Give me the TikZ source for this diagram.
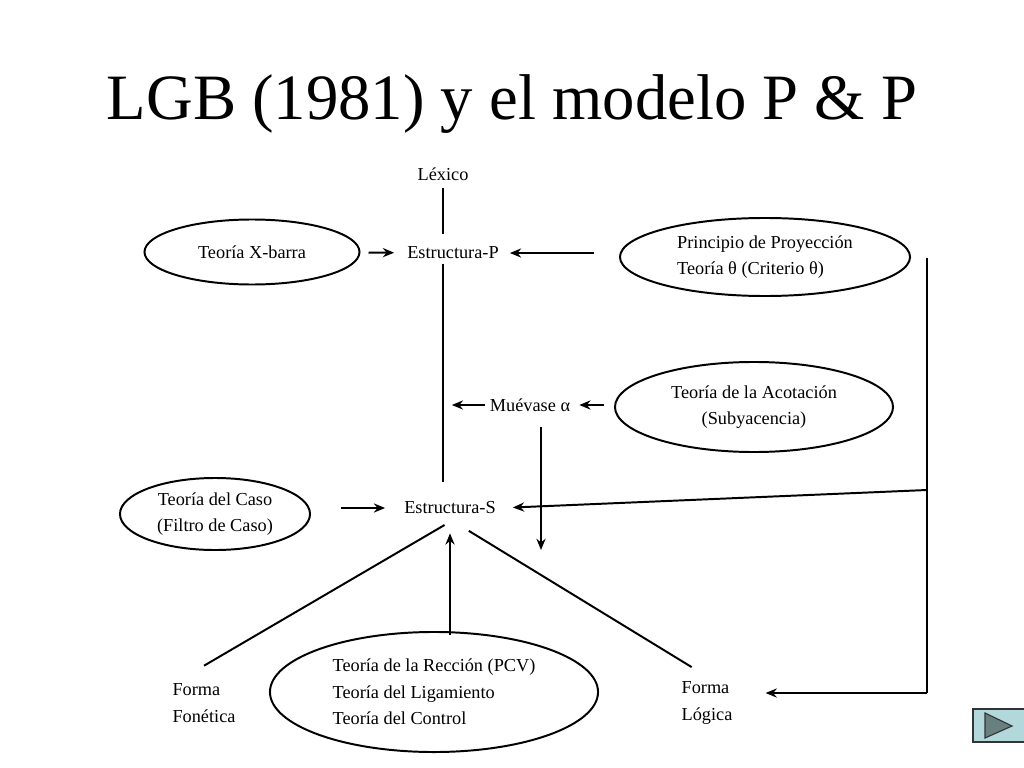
\documentclass[tikz,border=0pt]{standalone}
\usepackage{fontspec}
\setmainfont{Liberation Serif}
\usepackage{tikz}
\usetikzlibrary{shapes.geometric}
\usetikzlibrary{shapes,arrows.meta}
\definecolor{botonfondo}{RGB}{178,216,220}
\definecolor{botonflecha}{RGB}{105,128,128}

\begin{document}
\begin{tikzpicture}[x=0.025cm,y=-0.025cm,->,>={Stealth[length=8pt,width=6.5pt]},line width=1.4pt,
  teoria/.style={ellipse,draw,inner sep=0pt,font=\fontsize{13}{19}\selectfont},
  etiqueta/.style={inner sep=3pt,font=\fontsize{13}{19}\selectfont}]
\useasboundingbox (0,0) rectangle (1024,768);
\node[anchor=base,font=\fontsize{46}{50}\selectfont] (titulo) at (512,120) {LGB (1981) y el modelo P \& P};

\node[etiqueta] (lex) at (443,174) {Léxico};
\node[etiqueta] (estp) at (453,253) {Estructura-P};
\node[etiqueta] (ests) at (450,508) {Estructura-S};
\node[etiqueta] (mov) at (530,405) {Muévase α};
\node[teoria,minimum width=5.375cm,minimum height=1.625cm] (xbar) at (252,252) {Teoría X-barra};
\node[teoria,align=left,minimum width=7.25cm,minimum height=1.95cm] (prin) at (765,257) {Principio de Proyección\\Teoría θ (Criterio θ)};
\node[teoria,align=center,minimum width=6.95cm,minimum height=2.25cm] (acot) at (754,407) {Teoría de la Acotación\\(Subyacencia)};
\node[teoria,align=center,minimum width=4.75cm,minimum height=1.8cm] (caso) at (215,514) {Teoría del Caso\\(Filtro de Caso)};
\node[teoria,align=left,minimum width=8.2cm,minimum height=3cm] (rec) at (434,692) {Teoría de la Rección (PCV)\\Teoría del Ligamiento\\Teoría del Control};
\node[etiqueta,align=left] (ffon) at (204,703) {Forma\\Fonética};
\node[etiqueta,align=left] (flog) at (707,703) {Forma\\Lógica};

\coordinate (movfin) at (541,550);
\coordinate (dersup) at (927,258);
\coordinate (dermed) at (927,490);
\coordinate (derinf) at (927,693);

\draw[-,shorten <=2pt,shorten >=0.2cm] (lex) -- (lex |- estp.north);
\draw[-,shorten >=0.37cm] (lex |- estp.south) -- (lex |- ests.north);
\draw[shorten <=0.2cm,shorten >=0.2cm] (xbar) -- (estp);
\draw[shorten <=0.62cm,shorten >=0.15cm] (prin.west |- estp) -- (estp);
\draw[shorten <=0.25cm,shorten >=0.1cm] (acot.west |- mov) -- (mov);
\draw[shorten >=0.22cm] (mov.west) -- (mov.west -| lex);
\draw[shorten <=0.25cm] (movfin |- mov.south) -- (movfin);
\draw[shorten <=0.75cm,shorten >=0.35cm] (caso.east |- ests) -- (ests);
\draw[-] (dersup) -- (derinf);
\draw[shorten >=0.3cm] (dermed) -- (ests.east);
\draw[shorten >=0.7cm] (derinf) -- (derinf -| flog.east);
\draw[-,shorten <=0.28cm] ([xshift=3pt]ests.south) -- ([yshift=9pt]ffon.north);
\draw[-,shorten <=0.55cm,shorten >=0.45cm] (ests.south) -- (flog.north);
\draw[shorten <=-0.1cm,shorten >=0.35cm] (ests.south |- rec.north) -- (ests.south);

\filldraw[-,line width=0.8pt,fill=botonfondo,draw=black!80] (973,709) rectangle (1026,742);
\filldraw[-,line width=0.8pt,fill=botonflecha,draw=black!80] (985,713) -- (985,738) -- (1012,726) -- cycle;
\end{tikzpicture}
\end{document}
